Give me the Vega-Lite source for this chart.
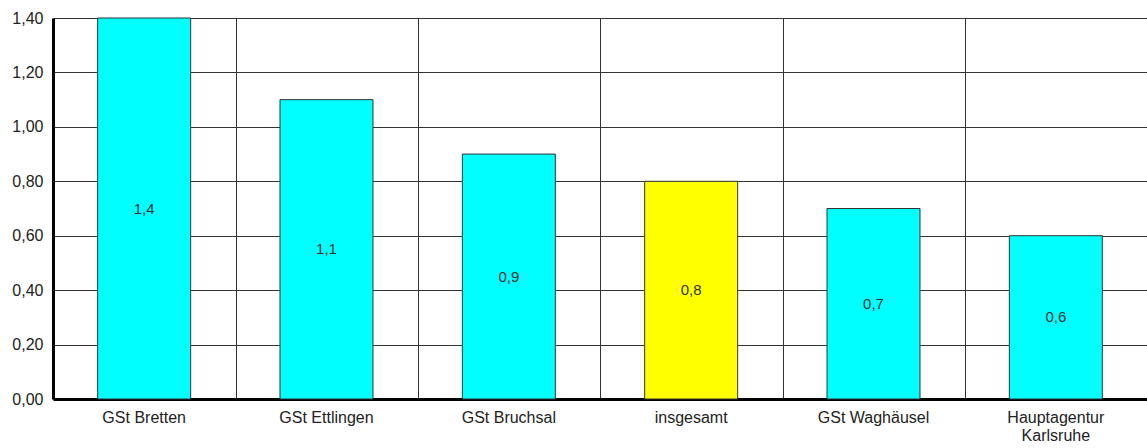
{
  "$schema": "https://vega.github.io/schema/vega-lite/v6.json",
  "autosize": {"type": "none"},
  "padding": {"left": 53, "top": 18, "right": 0, "bottom": 49},
  "width": 1094,
  "height": 381,
  "background": "white",
  "data": {"values": [
    {"category": "GSt Bretten", "value": 1.4, "total": "no"},
    {"category": "GSt Ettlingen", "value": 1.1, "total": "no"},
    {"category": "GSt Bruchsal", "value": 0.9, "total": "no"},
    {"category": "insgesamt", "value": 0.8, "total": "yes"},
    {"category": "GSt Waghäusel", "value": 0.7, "total": "no"},
    {"category": "Hauptagentur Karlsruhe", "value": 0.6, "total": "no"}
  ]},
  "config": {
    "font": "Liberation Sans",
    "view": {"stroke": null},
    "axis": {"labelFont": "Liberation Sans", "labelFontSize": 16, "labelColor": "#222"}
  },
  "encoding": {
    "x": {
      "field": "category", "type": "nominal", "sort": null,
      "scale": {"paddingInner": 0.49, "paddingOuter": 0.245},
      "axis": {
        "title": null, "labelAngle": 0, "bandPosition": 1.49, "ticks": false,
        "grid": true, "gridColor": "#333", "gridOpacity": 1, "gridWidth": 1,
        "domainColor": "#000", "domainWidth": 3, "labelPadding": 10,
        "labelExpr": "datum.label == 'Hauptagentur Karlsruhe' ? ['Hauptagentur', 'Karlsruhe'] : datum.label",
        "labelLineHeight": 18
      }
    }
  },
  "layer": [
    {
      "mark": {"type": "bar", "stroke": "#333", "strokeWidth": 1},
      "encoding": {
        "y": {
          "field": "value", "type": "quantitative",
          "scale": {"domain": [0, 1.4], "nice": false},
          "axis": {
            "title": null, "values": [0, 0.2, 0.4, 0.6, 0.8, 1.0, 1.2, 1.4],
            "ticks": false, "labelPadding": 10,
            "labelExpr": "replace(format(datum.value, '.2f'), '.', ',')",
            "grid": true, "gridColor": "#333", "gridOpacity": 1, "gridWidth": 1,
            "domainColor": "#000", "domainWidth": 3
          }
        },
        "color": {
          "field": "total", "type": "nominal",
          "scale": {"domain": ["no", "yes"], "range": ["#00FFFF", "#FFFF00"]},
          "legend": null
        }
      }
    },
    {
      "transform": [
        {"calculate": "datum.value / 2", "as": "mid"},
        {"calculate": "replace(format(datum.value, '.1f'), '.', ',')", "as": "lbl"}
      ],
      "mark": {"type": "text", "fontSize": 15, "color": "#333", "font": "Liberation Sans"},
      "encoding": {
        "y": {"field": "mid", "type": "quantitative"},
        "text": {"field": "lbl"}
      }
    }
  ]
}
